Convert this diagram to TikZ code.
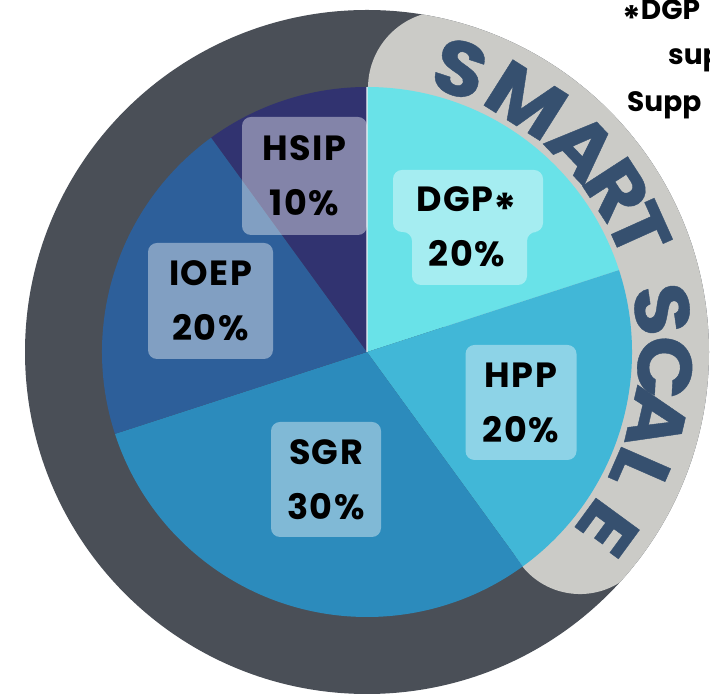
\documentclass[tikz,border=0pt]{standalone}
\usepackage{fontspec}
\setmainfont{Poppins}
\newfontfamily\lblfam{Poppins}[LetterSpace=4]
\newfontfamily\smartfam{Poppins}[BoldFeatures={FakeBold=0.5}]
\definecolor{ringdark}{HTML}{4A4F57}
\definecolor{badgegrey}{HTML}{CBCBC7}
\definecolor{cdgp}{HTML}{69E2E8}
\definecolor{chpp}{HTML}{41B7D7}
\definecolor{csgr}{HTML}{2C8BBC}
\definecolor{cioep}{HTML}{2D5F9A}
\definecolor{chsip}{HTML}{313370}
\definecolor{smartblue}{HTML}{36506F}
\newcommand\lblfont{\lblfam\fontsize{35}{55}\selectfont\bfseries}
\newcommand\smartfnt{\smartfam\fontsize{77}{80}\selectfont\bfseries}
\newcommand\notefnt{\fontsize{28}{32}\selectfont\bfseries}
\newcommand\astr{\raisebox{-0.4em}{\scalebox{1.25}{*}}}
\newcommand\wide[1]{\scalebox{1.08}[1]{#1}}
\begin{document}
\begin{tikzpicture}[x=1pt,y=1pt,
  lab/.style={rounded corners=9pt, fill=white, fill opacity=0.4, text opacity=1,
    align=center, inner sep=0pt, font=\lblfont, text=black},
  labtext/.style={align=center, inner sep=0pt, font=\lblfont, text=black},
  note/.style={anchor=base west, inner sep=0pt, font=\notefnt, text=black},
  smartl/.style={anchor=base, inner sep=0pt, font=\smartfnt, text=smartblue}]
\useasboundingbox (0,0) rectangle (710,695);
\clip (0,0) rectangle (710,695);
\coordinate (C) at (367,343);
% outer dark ring
\fill[ringdark] (C) circle[radius=342];
% grey badge
\begin{scope}
  \clip (C) circle[radius=342];
  \fill[badgegrey] (368,607) arc[start angle=180, end angle=90, radius=77]
     -- (760,684) -- (760,167.5) -- (704,167.5) -- (620.3,112.9)
     arc[start angle=303, end angle=180, radius=74] -- cycle;
\end{scope}
% SMART SCALE
\foreach \ch/\a [count=\i] in {S/71.8, M/57.7, A/43.6, R/33.0, T/24.2, S/8.2, C/-3.0, A/-13.1, L/-23.6, E/-36.2}
  \node[smartl, rotate=\a-90] (sm\i) at ([shift={(\a:271)}]C) {\wide{\ch}};
% pie
\fill[cdgp]  (C) -- ++(18:265) arc[start angle=18, end angle=90, radius=265] -- cycle;
\fill[chpp]  (C) -- ++(-54:265) arc[start angle=-54, end angle=18, radius=265] -- cycle;
\fill[csgr]  (C) -- ++(198:265) arc[start angle=198, end angle=306, radius=265] -- cycle;
\fill[cioep] (C) -- ++(126:265) arc[start angle=126, end angle=198, radius=265] -- cycle;
\fill[chsip] (C) -- ++(90:265) arc[start angle=90, end angle=126, radius=265] -- cycle;
\coordinate (Ctop) at (367,608);
\draw[white, opacity=0.6, line width=1.2pt] (C) -- (Ctop);
% labels
\node[lab, minimum width=125pt, minimum height=118pt] (hsip) at (304.5,519) {HSIP\\10\%};
\node[lab, minimum width=125pt, minimum height=116pt] (ioep) at (210.5,394) {IOEP\\20\%};
\node[lab, minimum width=111pt, minimum height=115pt] (hpp) at (521,292.5) {HPP\\20\%};
\node[lab, minimum width=110pt, minimum height=115pt] (sgr) at (326,215.5) {SGR\\30\%};
\fill[white, fill opacity=0.4, rounded corners=9pt]
  (393,525) -- (543,525) -- (543,463) -- (527,463) -- (527,410) -- (412,410)
  -- (412,463) -- (393,463) -- cycle;
\node[labtext] (dgp) at (467,468) {DGP\astr\\20\%};
% note text at top right
\node[note] (n1) at (622,675) {\astr DGP};
\node[note] (n2) at (668,630) {sup};
\node[note] (n3) at (627,583) {Supp};
\end{tikzpicture}
\end{document}
